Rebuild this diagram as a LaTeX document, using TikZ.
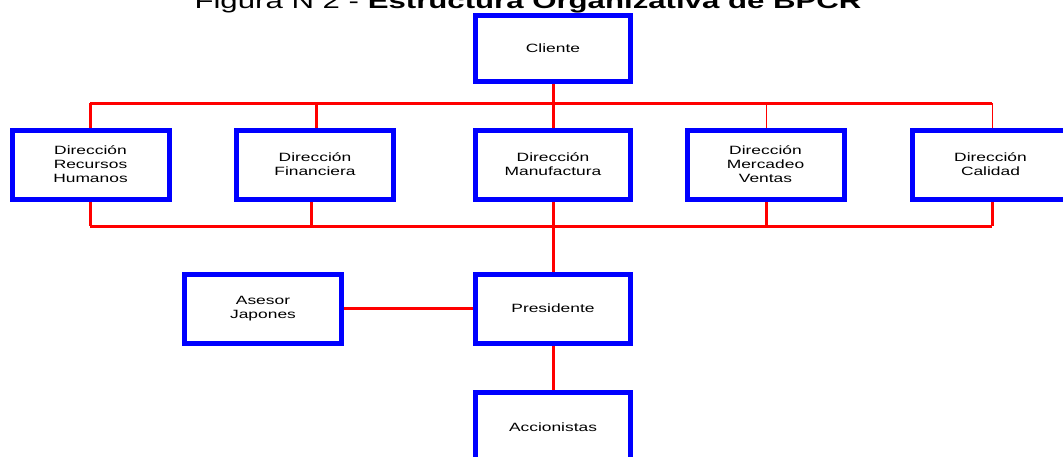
\documentclass[tikz,border=0pt]{standalone}
\usepackage{fontspec}
\newfontfamily\boxfont{Liberation Sans}[FakeStretch=1.45]
\usetikzlibrary{backgrounds}
\begin{document}
\begin{tikzpicture}[x=1pt,y=-1pt,
  org/.style={draw=blue, line width=5pt, fill=white, rectangle, minimum width=157pt, minimum height=69pt, inner sep=0pt, align=center, font=\boxfont\fontsize{12}{14}\selectfont},
  bus/.style={draw=red, line width=3pt},
  thinbus/.style={draw=red, line width=1pt}]
\useasboundingbox (0,0) rectangle (1063,456);
\node[anchor=base, font=\boxfont\fontsize{21.5}{24}\selectfont] (title) at (528,8) {Figura N 2 - \textbf{Estructura Organizativa de BPCR}};
\node[org, minimum width=155pt, minimum height=66pt] (cli) at (553,48.5) {Cliente};
\node[org] (rh) at (90.5,164.5) {Dirección\\Recursos\\Humanos};
\node[org] (fin) at (315,164.5) {Dirección\\Financiera};
\node[org, minimum width=155pt] (man) at (553,164.5) {Dirección\\Manufactura};
\node[org] (mer) at (765.5,164.5) {Dirección\\Mercadeo\\Ventas};
\node[org] (cal) at (990.5,164.5) {Dirección\\Calidad};
\node[org] (ase) at (263,308.5) {Asesor\\Japones};
\node[org, minimum width=155pt] (pre) at (553,308.5) {Presidente};
\node[org, minimum width=155pt] (acc) at (553,427) {Accionistas};
\coordinate (tl) at (90,103);
\coordinate (tr) at (992,103);
\coordinate (bl) at (90,226);
\coordinate (br) at (992,226);
\begin{pgfonlayer}{background}
\draw[bus] (tl) -- (tr);
\draw[bus] (bl) -- (br);
\draw[bus] (rh.north) -- (rh.north |- tl);
\draw[bus] ([xshift=1pt]fin.north) -- ([xshift=1pt]fin.north |- tl);
\draw[thinbus] ([xshift=0.5pt]mer.north) -- ([xshift=0.5pt]mer.north |- tl);
\draw[thinbus] ([xshift=1.5pt]cal.north) -- ([xshift=1.5pt]cal.north |- tl);
\draw[bus] (rh.south) -- (rh.south |- bl);
\draw[bus] ([xshift=-4pt]fin.south) -- ([xshift=-4pt]fin.south |- bl);
\draw[bus] ([xshift=0.5pt]mer.south) -- ([xshift=0.5pt]mer.south |- bl);
\draw[bus] ([xshift=1.5pt]cal.south) -- ([xshift=1.5pt]cal.south |- bl);
\draw[bus] (cli.south) -- (man.north);
\draw[bus] (man.south) -- (pre.north);
\draw[bus] (ase.east) -- (pre.west);
\draw[bus] (pre.south) -- (acc.north);
\end{pgfonlayer}
\end{tikzpicture}
\end{document}
